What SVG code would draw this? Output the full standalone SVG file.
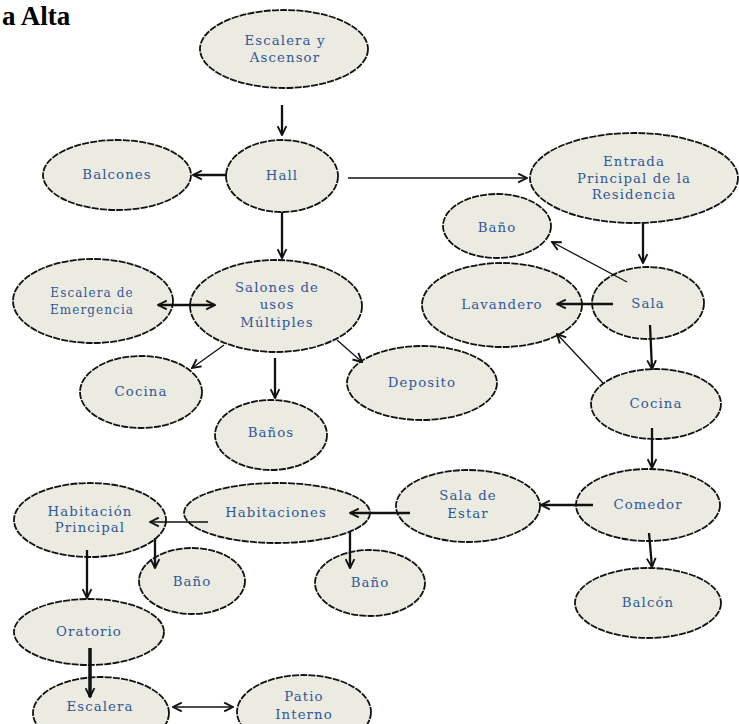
<svg xmlns="http://www.w3.org/2000/svg" width="739" height="724" viewBox="0 0 739 724">
<style>
.n ellipse{fill:#ecebe1;stroke:#111;stroke-width:1.8;stroke-dasharray:7 1.2}
.n text{font-family:"DejaVu Serif","Liberation Serif",serif;font-size:13.3px;fill:#2f5898;text-anchor:middle;letter-spacing:1.1px}
.c line{stroke:#111;fill:none}
.thick{stroke-width:2.3}
.thin{stroke-width:1.3}
.title{font-family:"Liberation Serif",serif;font-weight:bold;font-size:27px;fill:#000}
</style>
<defs>
<marker id="arr" viewBox="0 0 10 10" refX="9" refY="5" markerWidth="11" markerHeight="11" orient="auto-start-reverse" markerUnits="userSpaceOnUse">
<path d="M1,1 L9,5 L1,9" fill="none" stroke="#111" stroke-width="1.7"/>
</marker>
</defs>
<rect width="739" height="724" fill="#fff"/>
<text class="title" x="2" y="25">a Alta</text>

<g id="escalera-ascensor" class="n"><ellipse cx="284" cy="49" rx="84" ry="39"/><text x="285" y="45">Escalera y</text><text x="285" y="62">Ascensor</text></g>
<g id="hall" class="n"><ellipse cx="282" cy="176" rx="56" ry="36"/><text x="282" y="180">Hall</text></g>
<g id="balcones" class="n"><ellipse cx="117" cy="175" rx="74" ry="35"/><text x="117" y="179">Balcones</text></g>
<g id="entrada" class="n"><ellipse cx="634" cy="178" rx="104" ry="45"/><text x="634" y="166">Entrada</text><text x="634" y="183">Principal de la</text><text x="634" y="199">Residencia</text></g>
<g id="bano-sala" class="n"><ellipse cx="497" cy="226" rx="54" ry="32"/><text x="497" y="232">Baño</text></g>
<g id="lavandero" class="n"><ellipse cx="502" cy="305" rx="80" ry="42"/><text x="502" y="309">Lavandero</text></g>
<g id="sala" class="n"><ellipse cx="648" cy="303" rx="56" ry="36"/><text x="648" y="308">Sala</text></g>
<g id="salones" class="n"><ellipse cx="276" cy="306" rx="86" ry="46"/><text x="277" y="292">Salones de</text><text x="277" y="309">usos</text><text x="277" y="327">Múltiples</text></g>
<g id="escalera-emergencia" class="n"><ellipse cx="93" cy="301" rx="80" ry="42"/><text x="92" y="297" style="font-size:12px">Escalera de</text><text x="92" y="314" style="font-size:12px">Emergencia</text></g>
<g id="cocina-salones" class="n"><ellipse cx="141" cy="392" rx="61" ry="36"/><text x="141" y="396">Cocina</text></g>
<g id="banos" class="n"><ellipse cx="271" cy="435" rx="56" ry="35"/><text x="271" y="437">Baños</text></g>
<g id="deposito" class="n"><ellipse cx="422" cy="383" rx="75" ry="37"/><text x="422" y="387">Deposito</text></g>
<g id="cocina-sala" class="n"><ellipse cx="656" cy="404" rx="65" ry="35"/><text x="656" y="408">Cocina</text></g>
<g id="comedor" class="n"><ellipse cx="648" cy="505" rx="72" ry="36"/><text x="648" y="509">Comedor</text></g>
<g id="sala-estar" class="n"><ellipse cx="468" cy="506" rx="72" ry="36"/><text x="468" y="500">Sala de</text><text x="468" y="518">Estar</text></g>
<g id="balcon" class="n"><ellipse cx="648" cy="603" rx="73" ry="35"/><text x="648" y="607">Balcón</text></g>
<g id="habitacion-principal" class="n"><ellipse cx="90" cy="520" rx="76" ry="37"/><text x="90" y="516">Habitación</text><text x="90" y="532">Principal</text></g>
<g id="habitaciones" class="n"><ellipse cx="277" cy="513" rx="93" ry="30"/><text x="276" y="517">Habitaciones</text></g>
<g id="bano-principal" class="n"><ellipse cx="192" cy="581" rx="53" ry="33"/><text x="192" y="586">Baño</text></g>
<g id="bano-habitaciones" class="n"><ellipse cx="370" cy="583" rx="55" ry="33"/><text x="370" y="587">Baño</text></g>
<g id="oratorio" class="n"><ellipse cx="89" cy="632" rx="75" ry="33"/><text x="89" y="636">Oratorio</text></g>
<g id="escalera" class="n"><ellipse cx="101" cy="713" rx="68" ry="36"/><text x="100" y="711">Escalera</text></g>
<g id="patio-interno" class="n"><ellipse cx="304" cy="712" rx="67" ry="37"/><text x="304" y="701">Patio</text><text x="304" y="719">Interno</text></g>

<g class="c">
<line class="thick" x1="282" y1="105" x2="282" y2="135" marker-end="url(#arr)"/>
<line class="thick" x1="227" y1="175" x2="193" y2="175" marker-end="url(#arr)"/>
<line class="thin" x1="348" y1="178" x2="527" y2="178" marker-end="url(#arr)"/>
<line class="thick" x1="282" y1="212" x2="282" y2="258" marker-end="url(#arr)"/>
<line class="thick" x1="158" y1="305" x2="215" y2="305" marker-start="url(#arr)" marker-end="url(#arr)"/>
<line class="thin" x1="224" y1="345" x2="192" y2="368" marker-end="url(#arr)"/>
<line class="thick" x1="275" y1="358" x2="275" y2="398" marker-end="url(#arr)"/>
<line class="thin" x1="337" y1="340" x2="362" y2="362" marker-end="url(#arr)"/>
<line class="thick" x1="643" y1="222" x2="643" y2="263" marker-end="url(#arr)"/>
<line class="thin" x1="627" y1="282" x2="552" y2="242" marker-end="url(#arr)"/>
<line class="thick" x1="613" y1="304" x2="557" y2="304" marker-end="url(#arr)"/>
<line class="thick" x1="650" y1="325" x2="652" y2="369" marker-end="url(#arr)"/>
<line class="thin" x1="603" y1="383" x2="557" y2="334" marker-end="url(#arr)"/>
<line class="thick" x1="652" y1="428" x2="652" y2="468" marker-end="url(#arr)"/>
<line class="thick" x1="593" y1="505" x2="541" y2="505" marker-end="url(#arr)"/>
<line class="thick" x1="649" y1="533" x2="652" y2="567" marker-end="url(#arr)"/>
<line class="thick" x1="410" y1="513" x2="350" y2="513" marker-end="url(#arr)"/>
<line class="thin" x1="208" y1="522" x2="150" y2="522" marker-end="url(#arr)"/>
<line class="thick" x1="350" y1="532" x2="350" y2="568" marker-end="url(#arr)"/>
<line class="thick" x1="155" y1="538" x2="155" y2="568" marker-end="url(#arr)"/>
<line class="thick" x1="87" y1="550" x2="87" y2="598" marker-end="url(#arr)"/>
<line class="thick" x1="90" y1="648" x2="90" y2="697" marker-end="url(#arr)" style="stroke-width:3.5"/>
<line class="thin" x1="173" y1="707" x2="233" y2="707" marker-start="url(#arr)" marker-end="url(#arr)"/>
</g>
</svg>
